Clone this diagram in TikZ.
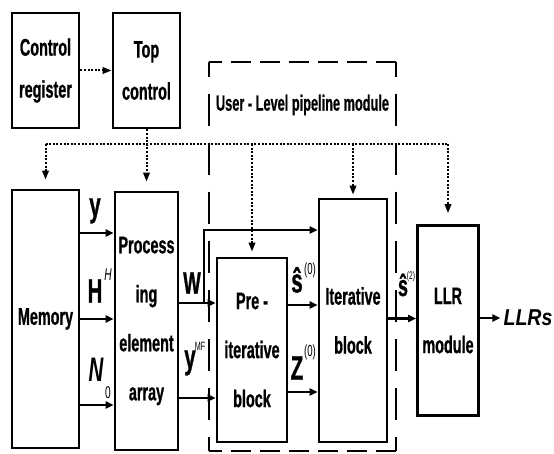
\documentclass[tikz,border=0pt]{standalone}
\usepackage{fontspec}
\setmainfont{Liberation Sans}
\newfontfamily\nar[FakeStretch=0.6, BoldFeatures={FakeBold=0.8}]{Liberation Sans}
\newfontfamily\nart[FakeStretch=0.58, BoldFeatures={FakeBold=0.6}]{Liberation Sans}
\newfontfamily\narw[FakeStretch=0.85]{Liberation Sans}
\usetikzlibrary{arrows.meta}
\newcommand\bodyfont{\nar\bfseries\fontsize{24}{49}\selectfont}
\newcommand\ctrlfont{\nar\bfseries\fontsize{24}{42}\selectfont}
\newcommand\lblfont{\nar\bfseries\fontsize{34}{34}\selectfont}
\begin{document}
\begin{tikzpicture}[x=1pt,y=-1pt,
  box/.style={draw, line width=2.8pt, align=center, font=\bodyfont, inner sep=0pt},
  arr/.style={line width=2.6pt, -{Triangle[length=8pt,width=7pt]}},
  dots/.style={line width=2pt, dash pattern=on 2pt off 1.6pt},
  dotarr/.style={dots, -{Triangle[length=9pt,width=6.5pt]}},
  lbl/.style={inner sep=0pt, font=\lblfont},
  sup/.style={inner sep=0pt, font=\nar\fontsize{16}{16}\selectfont},
  dashh/.style={line width=2.2pt, dash pattern=on 20pt off 9pt, dash phase=7pt},
  dashv/.style={line width=2.2pt, dash pattern=on 32pt off 17pt, dash phase=17pt}]
\useasboundingbox (0,0) rectangle (554,454);
\fill[white] (0,0) rectangle (554,454);

% dashed pipeline module
\coordinate (d1) at (209,62);
\coordinate (d2) at (396,62);
\coordinate (d3) at (396,451);
\coordinate (d4) at (209,451);
\draw[dashh] (d1) -- (d2);
\draw[dashh] (d4) -- (d3);
\draw[dashv] (d1) -- (d4);
\draw[dashv] (d2) -- (d3);
\node[inner sep=0pt, font=\nart\bfseries\fontsize{22}{22}\selectfont] (title) at (302.5,105) {User - Level pipeline module};

% boxes
\node[box, font=\ctrlfont, minimum width=67pt, minimum height=115pt] (cr) at (45.5,70.5) {Control\\register};
\node[box, font=\ctrlfont, minimum width=67pt, minimum height=115pt] (tc) at (146.5,70.5) {Top\\control};
\node[box, minimum width=67pt, minimum height=258pt] (mem) at (45.5,319) {Memory};
\node[box, minimum width=63pt, minimum height=258pt] (pe) at (146.5,321) {Process\\ing\\element\\array};
\node[box, minimum width=70pt, minimum height=184pt] (pre) at (252,350) {Pre -\\iterative\\block};
\node[box, minimum width=68pt, minimum height=243pt] (it) at (353,320.5) {Iterative\\block};
\node[box, minimum width=61pt, minimum height=190pt] (llr) at (448,320.5) {LLR\\module};
\node[inner sep=0pt, font=\narw\bfseries\itshape\fontsize{23}{23}\selectfont] (out) at (528,318) {LLRs};

% control connections
\coordinate (busL) at (45.5,144);
\coordinate (busR) at (448,144);
\draw[dotarr] (cr) -- (tc);
\draw[dots] (busL) -- (busR);
\draw[dotarr, shorten >=9pt] (busL) -- (mem.north);
\draw[dotarr, shorten >=9pt] (tc.south) -- (pe.north);
\draw[dotarr, shorten >=5pt] (busL -| pre.north) -- (pre.north);
\draw[dotarr, shorten >=3pt] (busL -| it.north) -- (it.north);
\draw[dotarr, shorten >=11pt] (busR) -- (llr.north);

% data connections
\draw[arr] ([yshift=86pt]mem.east) -- ([yshift=86pt]mem.east -| pe.west);
\draw[arr] (mem.east) -- (mem.east -| pe.west);
\draw[arr] ([yshift=-86pt]mem.east) -- ([yshift=-86pt]mem.east -| pe.west);
\coordinate (wb) at (204,303);
\draw[arr] (pe.east |- wb) -- (wb -| pre.west);
\draw[arr] ([yshift=-77pt]pe.east) -- ([yshift=-77pt]pe.east -| pre.west);
\draw[arr] (wb) |- ([yshift=90.5pt]it.west);
\draw[arr] ([yshift=45pt]pre.east) -- ([yshift=45pt]pre.east -| it.west);
\draw[arr] ([yshift=-42pt]pre.east) -- ([yshift=-42pt]pre.east -| it.west);
\draw[arr] ([yshift=2pt]it.east) -- ([yshift=2pt]llr.west);
\draw[arr] (llr.east |- out.west) -- ([xshift=-3pt]out.west);

% labels
\node[lbl] (ly) at (95,211) {y};
\node[lbl] (lH) at (95,291) {H};
\node[sup, font=\nar\itshape\fontsize{17}{17}\selectfont] (lHs) at (108,275) {H};
\node[lbl, font=\lblfont\itshape] (lN) at (96,370) {N};
\node[sup, font=\nar\fontsize{17}{17}\selectfont] (lNs) at (108,393) {0};
\node[lbl, font=\nar\bfseries\fontsize{31}{31}\selectfont] (lW) at (192,283) {W};
\node[lbl] (lyMF) at (190,363) {y};
\node[sup, font=\nar\fontsize{12}{12}\selectfont] (lMF) at (200,346) {MF};
\node[lbl] (ls0) at (297,280) {ŝ};
\node[sup] (ls0s) at (310,270) {(0)};
\node[lbl] (lz0) at (297,368) {Z};
\node[sup] (lz0s) at (310,352) {(0)};
\node[lbl, font=\nar\bfseries\fontsize{30}{30}\selectfont] (ls2) at (403,285) {ŝ};
\node[sup, font=\nar\fontsize{11}{11}\selectfont] (ls2s) at (411,277) {(2)};
\end{tikzpicture}
\end{document}
